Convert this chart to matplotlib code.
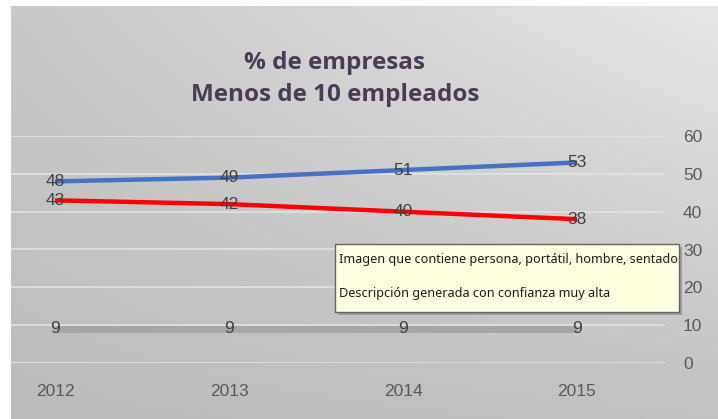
import matplotlib
matplotlib.use("Agg")
import matplotlib.pyplot as plt
from matplotlib.patches import Rectangle
import numpy as np

years = ["2012", "2013", "2014", "2015"]
serie_azul = [48, 49, 51, 53]
serie_roja = [43, 42, 40, 38]
serie_gris = [9, 9, 9, 9]
y_ticks = [0, 10, 20, 30, 40, 50, 60]

titulo = "% de empresas\nMenos de 10 empleados"
tooltip_1 = "Imagen que contiene persona, portátil, hombre, sentado"
tooltip_2 = "Descripción generada con confianza muy alta"

W, H = 718, 419
fig = plt.figure(figsize=(W / 100, H / 100), dpi=100)
fig.patch.set_facecolor("white")

# gradient panel behind everything
bg = fig.add_axes([11 / W, 0, 1 - 11 / W, 1 - 6 / H])
bg.set_axis_off()
gx, gy = np.meshgrid(np.linspace(0, 1, 200), np.linspace(0, 1, 200))
shade = 0.735 + 0.10 * gx * gy + 0.05 * gy + 0.02 * gx
bg.imshow(np.dstack([shade] * 3), origin="lower", aspect="auto", extent=[0, 1, 0, 1])

ax = fig.add_axes([11 / W, (H - 363) / H, (665 - 11) / W, (363 - 136) / H])
ax.patch.set_alpha(0)
x = np.arange(len(years))

ax.plot(x, serie_gris, color="#a6a6a6", lw=5, solid_capstyle="butt", zorder=3)
ax.plot(x, serie_roja, color="#ff0000", lw=3.2, solid_capstyle="butt", zorder=3)
ax.plot(x, serie_azul, color="#4472c4", lw=3.2, solid_capstyle="butt", zorder=3)

for serie in (serie_azul, serie_roja, serie_gris):
    for xi, v in zip(x, serie):
        ax.text(xi, v, str(v), ha="center", va="center", fontsize=12.5,
                color="#404040", family="Liberation Sans", zorder=4)

ax.set_xlim((11 - 55) / 174, (665 - 55) / 174)
ax.set_ylim(0, 60)
ax.set_yticks(y_ticks)
ax.yaxis.tick_right()
ax.grid(axis="y", color="#e2e2e2", lw=1.2)
ax.set_axisbelow(True)
for s in ax.spines.values():
    s.set_visible(False)
ax.tick_params(axis="y", length=0, pad=13, labelsize=12.5, labelcolor="#595959")
ax.set_xticks(x)
ax.set_xticklabels(years)
ax.tick_params(axis="x", length=0, pad=15, labelsize=12.5, labelcolor="#595959")
for lab in ax.get_xticklabels() + ax.get_yticklabels():
    lab.set_family("Liberation Sans")

fig.text(335 / W, 1 - 79 / H, titulo, ha="center", va="center", fontsize=17.5,
         fontweight="bold", color="#4a3b57", family="Open Sans", linespacing=1.4)

# tooltip box
bx0, by0, bx1, by1 = 335, 244, 679, 312
fig.patches.append(Rectangle(((bx0 + 3) / W, 1 - (by1 + 3) / H), (bx1 - bx0) / W,
                             (by1 - by0) / H, transform=fig.transFigure,
                             facecolor="#808080", edgecolor="none", alpha=0.6, zorder=5))
fig.patches.append(Rectangle((bx0 / W, 1 - by1 / H), (bx1 - bx0) / W, (by1 - by0) / H,
                             transform=fig.transFigure, facecolor="#ffffe1",
                             edgecolor="#646464", lw=1, zorder=6))
fig.text(339 / W, 1 - 259 / H, tooltip_1, ha="left", va="center", fontsize=9.1,
         color="#1a1a1a", family="Noto Sans", zorder=7)
fig.text(339 / W, 1 - 293 / H, tooltip_2, ha="left", va="center", fontsize=9.1,
         color="#1a1a1a", family="Noto Sans", zorder=7)

fig.savefig("out.png", dpi=100)
